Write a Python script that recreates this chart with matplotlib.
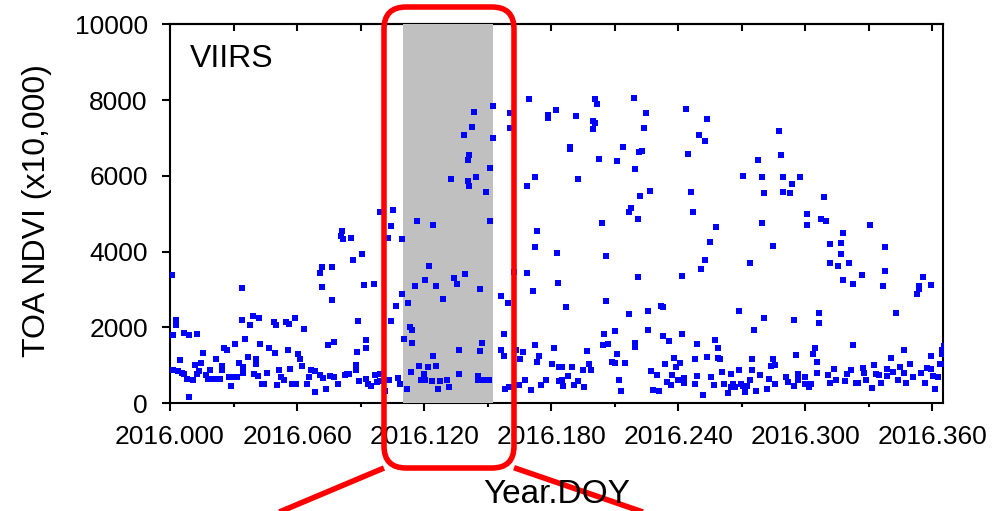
import matplotlib
matplotlib.use("Agg")
import numpy as np
import matplotlib.pyplot as plt
from matplotlib.patches import FancyBboxPatch
from matplotlib.lines import Line2D
from matplotlib.ticker import MultipleLocator, FormatStrFormatter

plt.rcParams['font.family'] = ['Liberation Sans', 'DejaVu Sans']

# VIIRS TOA NDVI (x10,000) vs day of year 2016
# high values: the growing season hump
doy_high = [0.8, 33.8, 33.8, 38, 39, 42, 49, 50, 55, 56, 59, 63.5, 2.8, 2.8, 1.6, 6.8, 9, 12.8,
            70.6, 71.8, 76.5, 71.6, 76.5, 80.8, 81.4, 81.7, 85.5, 86.6, 90.6, 91.7, 96.5, 88.7,
            92.6, 92.6, 99.2, 105.5, 104.4, 103.1, 109.6, 116.5, 124.4, 109.6, 106.5, 104.4,
            112.6, 115.6, 120.5, 122.5, 125.5, 128.7, 134.3, 135.6, 139.4, 146.5, 132.6, 140.5,
            141.4, 144.4, 149.4, 140.5, 141.4, 151.3, 151.3, 138.6, 142.5, 143.5, 152.4, 152.4,
            160.6, 160.6, 169.3, 178.3, 178.3, 182.4, 168.5, 172.4, 173.2, 172.4, 182.7, 183.1,
            162.5, 168.5, 171.3, 156.4, 159.5, 157.5, 113.4, 114.5, 110.6, 114.5, 147.2, 136.5,
            146.5,
            191.8, 200.8, 201.7, 199.8, 200.8, 199.8, 188.8, 188.8, 202.8, 210.9, 213.9, 192.8,
            218.9, 224.7, 223.8, 222.9, 221.6, 219.8, 226.8, 221.7, 217.8, 216.9, 220.9, 203.8,
            205.8, 186.8, 205.8, 220.8, 216.9, 225.8, 225.8, 231.8, 232.9, 204.9, 209.9, 243.8,
            253.7, 249.8, 252.8, 244.7, 245.8, 246.8, 257.6, 254.8, 252.6, 250.9, 241.7, 270.7,
            277.8, 279.7, 280.6, 279.7, 284.7, 273.7, 287.6, 288.7, 289.6, 289.6, 292.6, 293.7,
            297.6, 300.6, 300.6, 308.7, 307.6, 309.6, 317.6, 316.7, 311.8, 316.7, 311.8, 315.6,
            320.6, 317.6, 322.7, 326.6, 330.6, 337.6, 337.6, 336.5, 342.7, 355.6, 353.5, 353.5,
            352.6, 359.5, 268.7, 280.6, 275.7, 294.6, 306.6, 306.6, 257.4, 258.7, 219.4, 219.4,
            206.8, 204.6, 241.7, 248.7, 304.7, 303.6, 322.7, 346.6, 340.6, 359.5, 365.5, 364.7,
            364.7]
ndvi_high = [3390, 3040, 2180, 2050, 2290, 2250, 2140, 2050, 2140, 2100, 2250, 1950, 2180, 2050,
             1790, 1860, 1790, 1810, 3440, 3590, 3590, 3070, 2710, 4400, 4540, 4320, 4370, 3790,
             3930, 3130, 3150, 2170, 1660, 1450, 5050, 5090, 4670, 4370, 4340, 4810, 4710, 2890,
             2560, 2160, 2650, 3080, 3240, 3620, 3090, 2750, 3310, 3150, 3400, 3010, 5930, 5860,
             5730, 5970, 5580, 6430, 6550, 6210, 4800, 7070, 7280, 7680, 7850, 6990, 7650, 7270,
             8020, 7600, 7520, 7750, 5740, 5970, 4540, 4120, 3960, 3170, 3460, 3440, 2950, 2820,
             2630, 1810, 2010, 1920, 1700, 1590, 1590, 1390, 1370,
             7590, 8020, 7890, 7450, 7400, 7230, 6770, 6720, 6440, 6390, 6760, 5930, 8050, 7650,
             7260, 6660, 6630, 6180, 5590, 5480, 5150, 5040, 4850, 4750, 3890, 2530, 2700, 3330,
             2350, 2440, 1920, 2550, 2530, 1810, 1910, 7780, 7500, 7080, 6910, 6590, 5570, 5050,
             4660, 4260, 3770, 3530, 3350, 6000, 6410, 5960, 5540, 4760, 4140, 3710, 7190, 6550,
             5960, 5570, 5550, 5780, 5970, 4990, 4710, 5450, 4860, 4820, 4500, 4220, 4190, 3930,
             3710, 3630, 3710, 3240, 3150, 3380, 4690, 4130, 3500, 3100, 2390, 3340, 3080, 3010,
             2890, 3120, 2430, 2250, 1920, 2190, 2380, 2110, 1670, 1450, 1590, 1480, 1560, 1520,
             1810, 1560, 1460, 1300, 1520, 1410, 1190, 1240, 1510, 1390, 1290]

# low values: the dense band near the bottom
doy_low = [1.6, 3.6, 4.7, 5.7, 6.8, 7.9, 9, 10.7, 11.8, 12.8, 13.9, 14.8, 15.7, 16.9, 17.8, 18.9,
           19.8, 21.7, 22.8, 23.8, 24.7, 24.7, 25.7, 26.8, 27.9, 28.7, 29.8, 30.7, 31.7, 32.6,
           34.6, 34.6, 35.6, 36.6, 39.7, 40.6, 40.6, 41.7, 42.7, 43.6, 44.6, 45.7, 46.6, 49.6,
           50.7, 51.7, 52.6, 53.6, 55.6, 56.7, 57.5, 59.7, 60.6, 61.4, 62.5, 64.6, 65.5, 66.5,
           68.5, 68.5, 70.9, 72.4, 73.5, 74.5, 75.6, 77.5, 77.5, 79.5, 82.4, 83.5, 84.6, 87.7,
           87.7, 88.5, 89.4, 92.6, 93.7, 94.8, 96.9, 97.6, 99.2, 99.2, 101.6, 103.6, 107.7,
           108.7, 111.7, 113.6, 117.5, 118.6, 119.7, 120.6, 121.6, 123.6, 124.4, 125.5, 126.5,
           127.6, 130.6, 131.7, 136.5, 145.4, 145.4, 148.5, 150.6, 156.4, 157.5, 158.4, 160,
           163.5, 164.6, 165.4, 166.6, 167.6, 170.4, 172.4, 174.2, 173.5, 175.3, 177.5, 180.5,
           181.4, 183.6, 183.6,
           184.9, 185.8, 184.9, 187.9, 189.9, 190.7, 192.8, 194.8, 195.7, 197, 197.9, 198.9,
           208.7, 209.9, 210.9, 211.8, 212.8, 214.8, 226.9, 227.9, 229.8, 230.9, 232.9, 233.9,
           235.7, 234.8, 236.7, 237.8, 236.9, 238.7, 239.8, 240.8, 242.7, 242.7, 247.7, 247.7,
           248.7, 251.7, 253.7, 255.6, 256.7, 258.7, 259.7, 260.6, 261.6, 263.6, 264.7, 264.7,
           265.8, 266.6, 268.7, 269.8, 270.7, 271.7, 272.6, 273.7, 274.8, 274.8, 276.7, 278.8,
           281.7, 282.7, 283.6, 284.7, 285.8, 285.8, 290.7, 291.8, 294.6, 295.7, 296.7, 296.7,
           299.7, 299.7, 301.6, 302.5, 305.7, 305.7, 310.7, 311.7, 313.7, 314.6, 318.7, 319.8,
           321.7, 323.8, 324.7, 327.4, 327.9, 328.8, 331.7, 332.6, 333.5, 334.6, 335.6, 338.6,
           338.6, 341.6, 343.6, 344.6, 346.6, 347.6, 349.6, 350.6, 354.5, 356.4, 357.5, 359.5,
           360.5, 361.4, 362.5, 363.6, 365.5]
ndvi_low = [880, 840, 1130, 790, 775, 640, 160, 620, 1010, 775, 840, 1060, 1330, 730, 630, 880,
            630, 1170, 630, 630, 880, 970, 1450, 1390, 690, 440, 690, 1570, 690, 1060, 950, 790,
            1700, 1220, 775, 1170, 1040, 705, 1570, 510, 490, 790, 1450, 1320, 470, 860, 690,
            600, 1390, 910, 510, 510, 1290, 1150, 970, 510, 690, 860, 290, 850, 730, 670, 380,
            1520, 705, 1610, 690, 510, 730, 775, 775, 1010, 880, 1350, 570, 640, 510, 440, 730,
            555, 760, 580, 330, 620, 650, 510, 380, 820, 970, 600, 775, 600, 950, 580, 1230, 970,
            380, 570, 600, 420, 775, 705, 600, 620, 600, 1390, 1230, 380, 420, 1390, 485, 1170,
            1350, 600, 350, 1520, 1230, 1080, 470, 600, 1040, 1440, 570, 950,
            950, 440, 600, 705, 950, 470, 580, 880, 420, 1370, 1040, 880, 1080, 1060, 1290, 600,
            320, 1070, 850, 350, 740, 310, 1780, 1040, 1640, 555, 470, 1180, 750, 950, 600, 1060,
            660, 530, 1150, 510, 705, 200, 1220, 690, 485, 1190, 1170, 820, 510, 260, 775, 420,
            510, 420, 860, 510, 440, 290, 440, 600, 1160, 860, 330, 730, 380, 630, 990, 1160,
            1000, 510, 690, 555, 440, 1260, 775, 600, 690, 510, 420, 510, 1080, 790, 730, 530,
            910, 600, 580, 760, 880, 530, 530, 930, 790, 600, 400, 1000, 775, 750, 530, 910, 705,
            820, 600, 950, 790, 530, 1040, 690, 790, 530, 930, 910, 705, 380, 690, 1020, 1040]

x_ticks = [0.000, 0.060, 0.120, 0.180, 0.240, 0.300, 0.360]
shade_doy = (110, 152.5)

year = 2016.0
x_high = year + np.array(doy_high) / 1000.0
x_low = year + np.array(doy_low) / 1000.0

fig = plt.figure(figsize=(10.04, 5.11), dpi=100)
ax = fig.add_axes([170 / 1004, 1 - 403 / 511, 773 / 1004, 378.5 / 511])

ax.axvspan(year + shade_doy[0] / 1000, year + shade_doy[1] / 1000,
           color='#c0c0c0', lw=0, zorder=3)
ax.scatter(x_low, ndvi_low, marker='s', s=25, color='#0000ff', linewidths=0, zorder=4)
ax.scatter(x_high, ndvi_high, marker='s', s=25, color='#0000ff', linewidths=0, zorder=4)

ax.set_xlim(year, year + 0.365)
ax.set_ylim(0, 10000)

ax.set_xticks([year + t for t in x_ticks])
ax.xaxis.set_major_formatter(FormatStrFormatter('%.3f'))
ax.xaxis.set_minor_locator(MultipleLocator(0.03))
ax.yaxis.set_major_locator(MultipleLocator(2000))

ax.tick_params(axis='x', which='major', direction='out', length=6, width=1.5,
               labelsize=19, pad=10, top=False)
ax.tick_params(axis='x', which='minor', direction='out', length=3, width=1.5, top=False)
ax.tick_params(axis='y', which='major', direction='out', length=6, width=1.5,
               labelsize=19, pad=10, right=False)

# inward ticks along the top edge
top = ax.secondary_xaxis('top')
top.xaxis.set_major_locator(MultipleLocator(0.03))
top.tick_params(direction='in', length=5, width=1.5, labeltop=False)
top.spines['top'].set_linewidth(1.5)

for s in ax.spines.values():
    s.set_linewidth(1.5)

ax.text(0.026, 0.888, 'VIIRS', transform=ax.transAxes, fontsize=23, va='baseline')

fig.text(37 / 1004, 1 - 211 / 511, 'TOA NDVI (x10,000)', rotation=90,
         fontsize=23, ha='center', va='center')
fig.text(557 / 1004, 1 - 503 / 511, 'Year.DOY', fontsize=24, ha='center', va='baseline')

# red zoom callout around the shaded window (inches)
box = FancyBboxPatch((3.84, 0.43), 1.30, 4.61, boxstyle='round,pad=0,rounding_size=0.22',
                     transform=fig.dpi_scale_trans, fill=False, edgecolor='#ff0000',
                     linewidth=4, clip_on=False, zorder=10)
fig.add_artist(box)
fig.add_artist(Line2D([3.84, 2.58], [0.43, -0.10], transform=fig.dpi_scale_trans,
                      color='#ff0000', linewidth=4, solid_capstyle='butt', clip_on=False))
fig.add_artist(Line2D([5.14, 6.69], [0.433, -0.10], transform=fig.dpi_scale_trans,
                      color='#ff0000', linewidth=4, solid_capstyle='butt', clip_on=False))

fig.savefig('out.png', dpi=100)
